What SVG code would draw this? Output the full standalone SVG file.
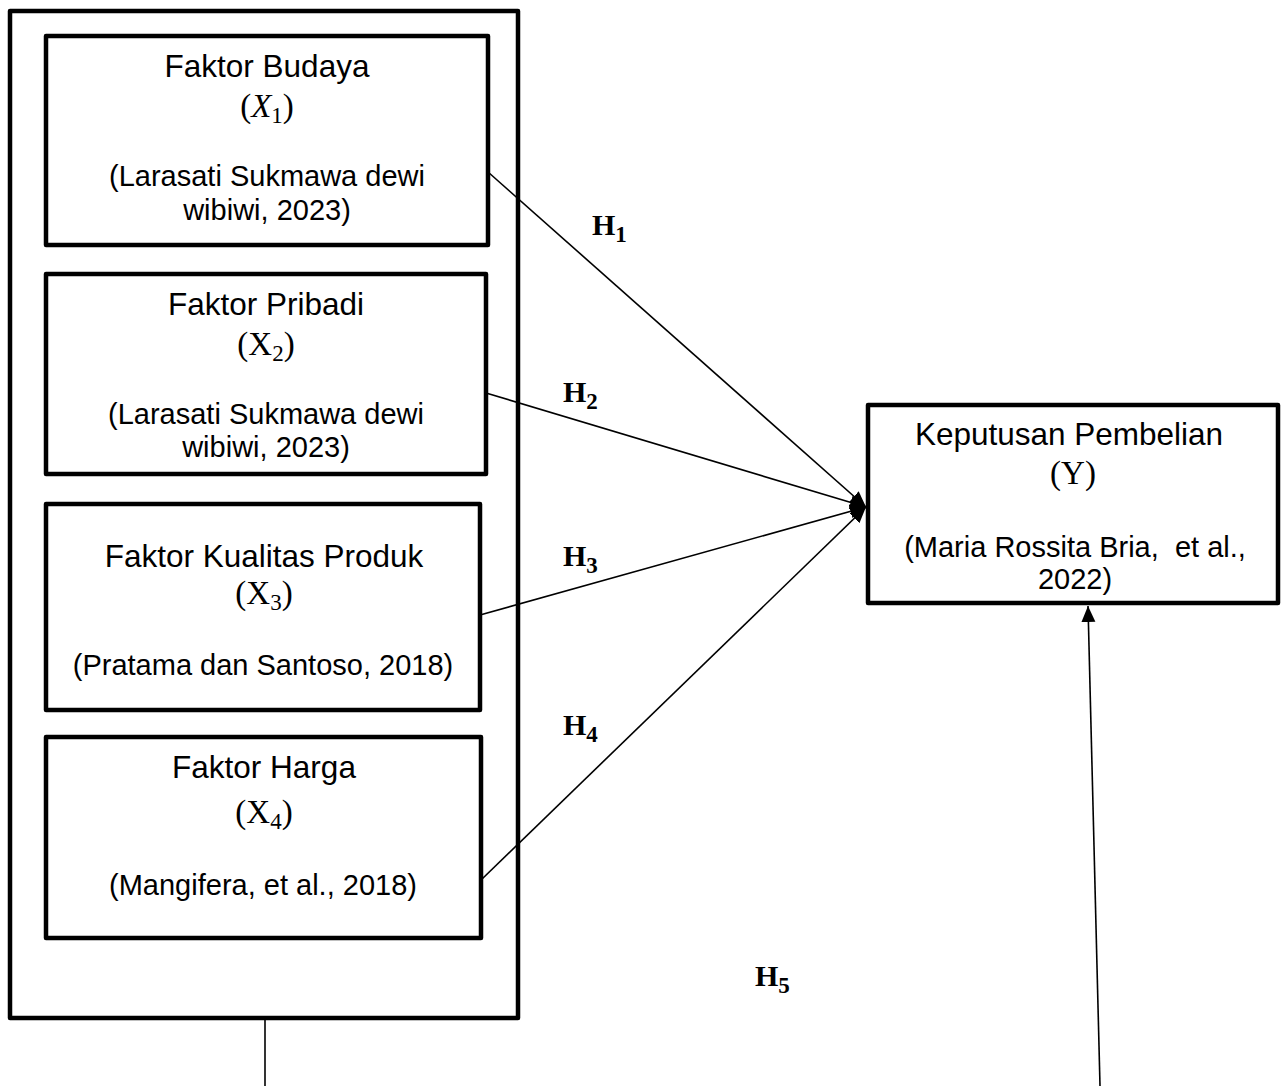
<svg xmlns="http://www.w3.org/2000/svg" width="1286" height="1086" viewBox="0 0 1286 1086">
<style>
.box{fill:#fff;stroke:#000;stroke-width:4.5;stroke-linejoin:round}
.t{font-family:"Liberation Sans",Arial,sans-serif;font-size:31.5px;fill:#000;text-anchor:middle}
.c{font-family:"Liberation Sans",Arial,sans-serif;font-size:29px;fill:#000;text-anchor:middle;white-space:pre}
.m{font-family:"Liberation Serif","Times New Roman",serif;font-size:33px;fill:#000;text-anchor:middle}
.h{font-family:"Liberation Serif","Times New Roman",serif;font-size:30px;font-weight:bold;fill:#000}
.sub{font-size:23px}
.ln{stroke:#000;stroke-width:1.6;fill:none}
</style>
<defs>
<marker id="ah" markerUnits="userSpaceOnUse" markerWidth="18" markerHeight="16" refX="16" refY="7" orient="auto">
<path d="M0,0 L16,7 L0,14 Z" fill="#000"/>
</marker>
</defs>
<rect width="1286" height="1086" fill="#fff"/>
<g id="outer"><rect class="box" x="10" y="11" width="508" height="1007"/></g>
<g id="x1">
<rect class="box" x="46" y="36" width="442" height="209"/>
<text class="t" x="267" y="77">Faktor Budaya</text>
<text class="m" x="267" y="117">(<tspan font-style="italic">X</tspan><tspan class="sub" dy="6">1</tspan><tspan dy="-6">)</tspan></text>
<text class="c" x="267" y="186">(Larasati Sukmawa dewi</text>
<text class="c" x="267" y="220">wibiwi, 2023)</text>
</g>
<g id="x2">
<rect class="box" x="46" y="274" width="440" height="200"/>
<text class="t" x="266" y="315">Faktor Pribadi</text>
<text class="m" x="266" y="355">(X<tspan class="sub" dy="6">2</tspan><tspan dy="-6">)</tspan></text>
<text class="c" x="266" y="424">(Larasati Sukmawa dewi</text>
<text class="c" x="266" y="457">wibiwi, 2023)</text>
</g>
<g id="x3">
<rect class="box" x="46" y="504" width="434" height="206"/>
<text class="t" x="264" y="567">Faktor Kualitas Produk</text>
<text class="m" x="264" y="604">(X<tspan class="sub" dy="6">3</tspan><tspan dy="-6">)</tspan></text>
<text class="c" x="263" y="675">(Pratama dan Santoso, 2018)</text>
</g>
<g id="x4">
<rect class="box" x="46" y="737" width="435" height="201"/>
<text class="t" x="264" y="778">Faktor Harga</text>
<text class="m" x="264" y="823">(X<tspan class="sub" dy="6">4</tspan><tspan dy="-6">)</tspan></text>
<text class="c" x="263" y="895">(Mangifera, et al., 2018)</text>
</g>
<g id="y">
<rect class="box" x="868" y="405" width="410" height="198"/>
<text class="t" x="1069" y="445">Keputusan Pembelian</text>
<text class="m" x="1073" y="484">(Y)</text>
<text class="c" x="1075" y="557">(Maria Rossita Bria,  et al.,</text>
<text class="c" x="1075" y="589">2022)</text>
</g>
<g id="connectors">
<line class="ln" x1="488" y1="172" x2="866" y2="507" marker-end="url(#ah)"/>
<line class="ln" x1="486" y1="393" x2="866" y2="507" marker-end="url(#ah)"/>
<line class="ln" x1="480" y1="615" x2="866" y2="507" marker-end="url(#ah)"/>
<line class="ln" x1="481" y1="880" x2="866" y2="507" marker-end="url(#ah)"/>
<line class="ln" x1="265" y1="1020" x2="265" y2="1086"/>
<line class="ln" x1="1100" y1="1086" x2="1088" y2="606" marker-end="url(#ah)"/>
</g>
<g id="labels">
<text class="h" x="592" y="235">H<tspan class="sub" dy="7">1</tspan></text>
<text class="h" x="563" y="402">H<tspan class="sub" dy="7">2</tspan></text>
<text class="h" x="563" y="566">H<tspan class="sub" dy="7">3</tspan></text>
<text class="h" x="563" y="735">H<tspan class="sub" dy="7">4</tspan></text>
<text class="h" x="755" y="986">H<tspan class="sub" dy="7">5</tspan></text>
</g>
</svg>
